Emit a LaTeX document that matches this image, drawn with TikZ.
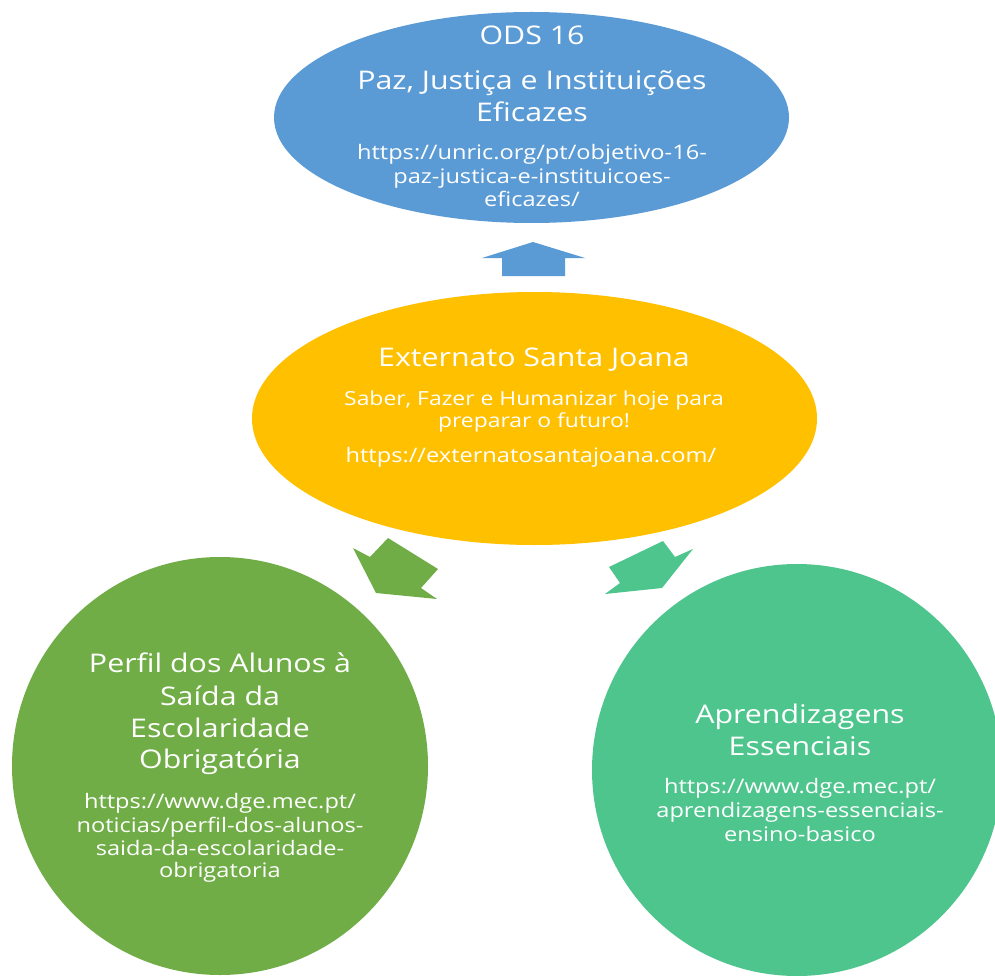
\documentclass[tikz,border=0pt]{standalone}
\usepackage{fontspec}
\usetikzlibrary{shapes.geometric}
\newfontfamily\diafont[FakeStretch=1.18]{Open Sans}
\definecolor{odsblue}{HTML}{5B9BD5}
\definecolor{esjgold}{HTML}{FFC000}
\definecolor{perfilgreen}{HTML}{70AD47}
\definecolor{aprteal}{HTML}{4FC58E}
\begin{document}
\begin{tikzpicture}[x=1pt,y=-1pt,
  blob/.style={ellipse, inner sep=0pt, draw=none},
  ttl/.style={text=white, inner sep=0pt, anchor=base, font=\diafont\fontsize{25.7pt}{31pt}\selectfont},
  sbt/.style={text=white, inner sep=0pt, anchor=base, font=\diafont\fontsize{20pt}{23pt}\selectfont},
  motto/.style={text=white, inner sep=0pt, anchor=base, font=\diafont\fontsize{19.4pt}{23pt}\selectfont}]
\useasboundingbox (0,0) rectangle (995,976);
\fill[white] (0,0) rectangle (995,976);

% shapes
\node[blob, fill=odsblue, minimum width=515pt, minimum height=211pt] (ods) at (531.5,117.5) {};
\node[blob, fill=esjgold, minimum width=565pt, minimum height=253pt] (esj) at (534.5,418.5) {};
\node[blob, fill=perfilgreen, minimum width=416pt, minimum height=418pt] (perfil) at (220,766) {};
\node[blob, fill=aprteal, minimum width=410pt, minimum height=412pt] (apr) at (797,770) {};

% block arrows
\fill[odsblue] (482,258) -- (533,242) -- (585,258) -- (565,258) -- (565,276) -- (502,276) -- (502,258) -- cycle;
\fill[perfilgreen] (353,548) -- (370,557) -- (388,538) -- (438,569) -- (421,588) -- (437,599) -- (376,593) -- cycle;
\fill[aprteal] (663,541) -- (675,557) -- (693,549) -- (662,588) -- (605,594) -- (620,583) -- (609,567) -- cycle;

% ODS 16 texts
\node[ttl] (odsA) at (532,45) {ODS 16};
\node[ttl] (odsB) at (532,90) {Paz, Justiça e Instituições};
\node[ttl] (odsC) at (532,122) {Eficazes};
\node[sbt] (odsD) at (532,160) {https://unric.org/pt/objetivo-16-};
\node[sbt] (odsE) at (532,184) {paz-justica-e-instituicoes-};
\node[sbt] (odsF) at (532,207) {eficazes/};

% Externato texts
\node[ttl] (esjA) at (534,366) {Externato Santa Joana};
\node[motto] (esjB) at (534,405) {Saber, Fazer e Humanizar hoje para};
\node[motto] (esjC) at (534,427) {preparar o futuro!};
\node[sbt] (esjD) at (531,462) {https://externatosantajoana.com/};

% Perfil texts
\node[ttl] (perA) at (220,672) {Perfil dos Alunos à};
\node[ttl] (perB) at (220,705) {Saída da};
\node[ttl] (perC) at (220,737) {Escolaridade};
\node[ttl] (perD) at (220,768) {Obrigatória};
\node[sbt] (perE) at (220,808) {https://www.dge.mec.pt/};
\node[sbt] (perF) at (220,832) {noticias/perfil-dos-alunos-};
\node[sbt] (perG) at (220,855) {saida-da-escolaridade-};
\node[sbt] (perH) at (220,877) {obrigatoria};

% Aprendizagens texts
\node[ttl] (aprA) at (800,723) {Aprendizagens};
\node[ttl] (aprB) at (800,755) {Essenciais};
\node[sbt] (aprC) at (800,793) {https://www.dge.mec.pt/};
\node[sbt] (aprD) at (800,817) {aprendizagens-essenciais-};
\node[sbt] (aprE) at (800,841) {ensino-basico};
\end{tikzpicture}
\end{document}
